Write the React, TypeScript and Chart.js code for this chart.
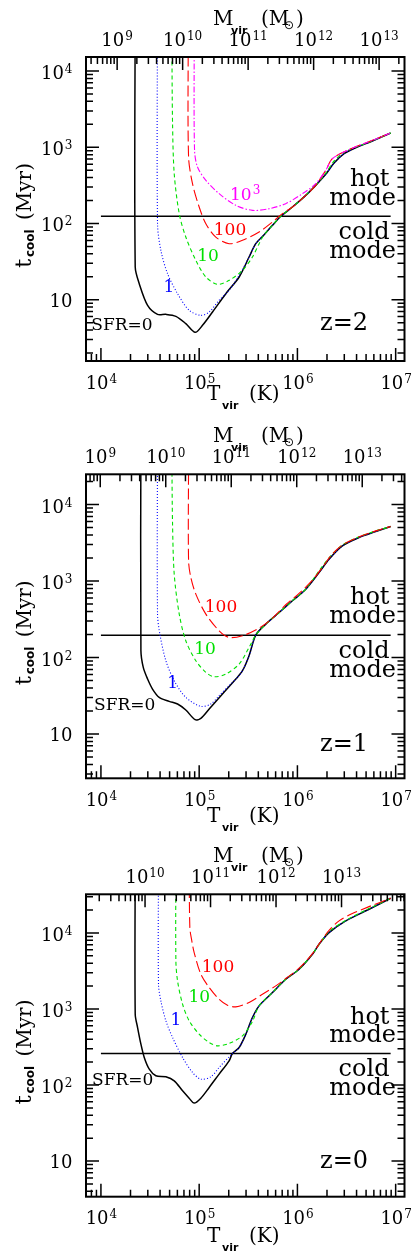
import { useEffect, useRef } from "react";
import { Chart, registerables } from "chart.js";

Chart.register(...registerables);

const SERIF = '"DejaVu Serif", serif';
const SANS = '"DejaVu Sans", sans-serif';

// ---------- values: log10 T_vir [K] and log10 t_cool [Myr] ----------
// z = 2
const z2Sfr0LogT = [4.349, 4.349, 4.390, 4.475, 4.576, 4.661, 4.763, 4.864, 4.959, 5.034, 5.136, 5.271, 5.407, 5.508, 5.576, 5.661, 5.746, 5.831, 5.949, 6.085, 6.186, 6.288, 6.373, 6.475, 6.593, 6.763, 6.949];
const z2Sfr0Logt = [5.000, 1.429, 1.210, 0.926, 0.808, 0.808, 0.782, 0.686, 0.572, 0.664, 0.839, 1.079, 1.298, 1.560, 1.735, 1.853, 1.976, 2.094, 2.216, 2.369, 2.500, 2.645, 2.793, 2.916, 2.994, 3.082, 3.187];
const z2Sfr1LogT = [4.576, 4.576, 4.610, 4.678, 4.780, 4.898, 5.017, 5.102, 5.203, 5.305, 5.407, 5.508, 5.576, 5.661, 5.746, 5.831, 5.949, 6.085, 6.186, 6.288, 6.373, 6.475, 6.593, 6.763, 6.949];
const z2Sfr1Logt = [5.000, 1.997, 1.648, 1.342, 1.079, 0.861, 0.795, 0.839, 0.992, 1.123, 1.320, 1.560, 1.735, 1.853, 1.976, 2.094, 2.216, 2.369, 2.500, 2.645, 2.793, 2.916, 2.994, 3.082, 3.187];
const z2Sfr10LogT = [4.722, 4.729, 4.746, 4.797, 4.864, 4.966, 5.068, 5.186, 5.305, 5.441, 5.542, 5.610, 5.661, 5.746, 5.831, 5.949, 6.085, 6.186, 6.288, 6.373, 6.475, 6.593, 6.763, 6.949];
const z2Sfr10Logt = [4.400, 3.309, 2.653, 2.129, 1.822, 1.516, 1.298, 1.202, 1.254, 1.385, 1.560, 1.735, 1.853, 1.976, 2.094, 2.216, 2.369, 2.500, 2.660, 2.820, 2.935, 3.000, 3.085, 3.187];
const z2Sfr100LogT = [4.888, 4.892, 4.932, 5.000, 5.068, 5.169, 5.305, 5.441, 5.610, 5.746, 5.847, 5.949, 6.085, 6.186, 6.288, 6.356, 6.525, 6.763, 6.949];
const z2Sfr100Logt = [4.400, 2.872, 2.522, 2.216, 1.997, 1.822, 1.735, 1.779, 1.888, 2.019, 2.129, 2.216, 2.369, 2.500, 2.697, 2.850, 2.968, 3.091, 3.187];
const z2Sfr1000LogT = [4.949, 4.953, 4.983, 5.068, 5.203, 5.373, 5.542, 5.712, 5.881, 6.051, 6.186, 6.288, 6.356, 6.525, 6.763, 6.949];
const z2Sfr1000Logt = [4.400, 2.959, 2.741, 2.566, 2.391, 2.238, 2.172, 2.194, 2.260, 2.391, 2.522, 2.697, 2.850, 2.968, 3.091, 3.187];
const z2HotColdLogt = 2.094;

// z = 1
const z1Sfr0LogT = [4.407, 4.407, 4.431, 4.475, 4.525, 4.593, 4.695, 4.780, 4.864, 4.959, 5.017, 5.102, 5.237, 5.373, 5.441, 5.508, 5.576, 5.678, 5.814, 5.949, 6.085, 6.220, 6.322, 6.458, 6.627, 6.797, 6.949];
const z1Sfr0Logt = [5.000, 2.089, 1.871, 1.719, 1.588, 1.479, 1.427, 1.392, 1.314, 1.188, 1.205, 1.327, 1.523, 1.719, 1.828, 2.024, 2.293, 2.437, 2.589, 2.742, 2.894, 3.112, 3.286, 3.460, 3.569, 3.647, 3.713];
const z1Sfr1LogT = [4.576, 4.576, 4.600, 4.661, 4.746, 4.864, 5.017, 5.119, 5.203, 5.305, 5.373, 5.441, 5.508, 5.576, 5.678, 5.814, 5.949, 6.085, 6.220, 6.322, 6.458, 6.627, 6.797, 6.949];
const z1Sfr1Logt = [5.000, 2.568, 2.306, 1.958, 1.697, 1.479, 1.362, 1.392, 1.501, 1.632, 1.719, 1.828, 2.024, 2.293, 2.437, 2.589, 2.742, 2.894, 3.112, 3.286, 3.460, 3.569, 3.647, 3.713];
const z1Sfr10LogT = [4.722, 4.729, 4.746, 4.797, 4.864, 4.966, 5.068, 5.153, 5.271, 5.407, 5.508, 5.576, 5.678, 5.814, 5.949, 6.085, 6.220, 6.339, 6.458, 6.627, 6.797, 6.949];
const z1Sfr10Logt = [4.600, 3.743, 3.090, 2.568, 2.219, 1.958, 1.806, 1.749, 1.784, 1.915, 2.132, 2.293, 2.437, 2.589, 2.742, 2.894, 3.134, 3.330, 3.473, 3.578, 3.656, 3.713];
const z1Sfr100LogT = [4.892, 4.892, 4.915, 4.966, 5.068, 5.203, 5.305, 5.441, 5.610, 5.746, 5.881, 6.017, 6.153, 6.254, 6.339, 6.458, 6.627, 6.797, 6.949];
const z1Sfr100Logt = [4.600, 3.264, 3.047, 2.829, 2.568, 2.350, 2.263, 2.285, 2.385, 2.515, 2.690, 2.838, 3.012, 3.177, 3.330, 3.473, 3.578, 3.656, 3.713];
const z1HotColdLogt = 2.293;

// z = 0
const z0Sfr0LogT = [4.349, 4.349, 4.373, 4.407, 4.441, 4.492, 4.559, 4.661, 4.746, 4.831, 4.898, 4.949, 5.017, 5.102, 5.203, 5.305, 5.339, 5.407, 5.475, 5.542, 5.610, 5.746, 5.881, 6.017, 6.153, 6.220, 6.322, 6.492, 6.729, 6.949];
const z0Sfr0Logt = [5.000, 2.931, 2.756, 2.537, 2.362, 2.208, 2.121, 2.108, 2.055, 1.924, 1.827, 1.762, 1.827, 1.968, 2.143, 2.318, 2.414, 2.493, 2.668, 2.887, 3.041, 3.216, 3.391, 3.523, 3.720, 3.851, 4.004, 4.158, 4.311, 4.456];
const z0Sfr1LogT = [4.586, 4.586, 4.610, 4.661, 4.729, 4.831, 4.932, 5.017, 5.119, 5.203, 5.305, 5.339, 5.407, 5.475, 5.542, 5.610, 5.746, 5.881, 6.017, 6.153, 6.220, 6.322, 6.492, 6.729, 6.949];
const z0Sfr1Logt = [5.000, 3.325, 3.106, 2.844, 2.625, 2.362, 2.165, 2.077, 2.108, 2.230, 2.371, 2.414, 2.493, 2.668, 2.887, 3.041, 3.216, 3.391, 3.523, 3.720, 3.851, 4.004, 4.158, 4.311, 4.456];
const z0Sfr10LogT = [4.763, 4.763, 4.780, 4.831, 4.898, 5.000, 5.102, 5.186, 5.305, 5.441, 5.542, 5.610, 5.746, 5.881, 6.017, 6.153, 6.254, 6.322, 6.492, 6.729, 6.949];
const z0Sfr10Logt = [5.000, 3.632, 3.369, 3.063, 2.844, 2.668, 2.559, 2.515, 2.546, 2.647, 2.835, 3.041, 3.216, 3.391, 3.523, 3.725, 3.905, 4.020, 4.165, 4.320, 4.456];
const z0Sfr100LogT = [4.898, 4.905, 4.925, 4.949, 5.017, 5.102, 5.203, 5.288, 5.373, 5.508, 5.644, 5.780, 5.881, 6.017, 6.153, 6.254, 6.322, 6.424, 6.559, 6.729, 6.949];
const z0Sfr100Logt = [5.000, 4.070, 3.895, 3.742, 3.457, 3.282, 3.128, 3.050, 3.028, 3.085, 3.194, 3.304, 3.400, 3.536, 3.728, 3.917, 4.035, 4.158, 4.254, 4.346, 4.456];
const z0HotColdLogt = 2.414;

const hotColdLogT = [4.0, 6.949];

// axis tick labels
const tempTickExponents = [4, 5, 6, 7];
const timeTickExponents = [1, 2, 3, 4];
const massTickExponents = [9, 10, 11, 12, 13];

const xLogRange = [3.848, 7.09];

const BLUE = "#0000ff";
const GREEN = "#00e000";
const RED = "#ff0000";
const MAGENTA = "#ff00ff";

type Curve = { logT: number[]; logt: number[]; color: string; width: number; dash: number[]; order: number };
type Label = { text: string; sup?: string; color: string; x: number; y: number; align: CanvasTextAlign; size: number };

const styleSfr0 = { color: "#000000", width: 1.5, dash: [] as number[], order: 4 };
const styleSfr1 = { color: BLUE, width: 1.1, dash: [1, 2], order: 3 };
const styleSfr10 = { color: GREEN, width: 1.1, dash: [4, 3], order: 2 };
const styleSfr100 = { color: RED, width: 1.1, dash: [11, 4], order: 1 };
const styleSfr1000 = { color: MAGENTA, width: 1.1, dash: [6, 2, 1.5, 2], order: 0 };

type Panel = {
  zText: string;
  canvasTop: number;
  padTop: number;
  padBottom: number;
  yLogRange: number[];
  massAnchor: number[]; // [log M, log T]
  hotColdLogt: number;
  curves: Curve[];
  labels: Label[];
  modeBase: number[];
  zBase: number;
  botTitleOffset: number;
};

const panels: Panel[] = [
  {
    zText: "z=2",
    canvasTop: 0,
    padTop: 57,
    padBottom: 56,
    yLogRange: [0.196, 4.184],
    massAnchor: [9, 4.165],
    hotColdLogt: z2HotColdLogt,
    curves: [
      { logT: z2Sfr0LogT, logt: z2Sfr0Logt, ...styleSfr0 },
      { logT: z2Sfr1LogT, logt: z2Sfr1Logt, ...styleSfr1 },
      { logT: z2Sfr10LogT, logt: z2Sfr10Logt, ...styleSfr10 },
      { logT: z2Sfr100LogT, logt: z2Sfr100Logt, ...styleSfr100 },
      { logT: z2Sfr1000LogT, logt: z2Sfr1000Logt, ...styleSfr1000 },
    ],
    labels: [
      { text: "10", sup: "3", color: MAGENTA, x: 230, y: 199.7, align: "left", size: 17 },
      { text: "100", color: RED, x: 230, y: 234.7, align: "center", size: 17 },
      { text: "10", color: GREEN, x: 208, y: 261, align: "center", size: 17 },
      { text: "1", color: BLUE, x: 169, y: 292, align: "center", size: 17 },
      { text: "SFR=0", color: "#000", x: 122, y: 329.7, align: "center", size: 17 },
    ],
    modeBase: [186.3, 205.3, 238.7, 258],
    zBase: 330.3,
    botTitleOffset: 39,
  },
  {
    zText: "z=1",
    canvasTop: 417,
    padTop: 57.3,
    padBottom: 55.7,
    yLogRange: [0.421, 4.396],
    massAnchor: [9, 3.993],
    hotColdLogt: z1HotColdLogt,
    curves: [
      { logT: z1Sfr0LogT, logt: z1Sfr0Logt, ...styleSfr0 },
      { logT: z1Sfr1LogT, logt: z1Sfr1Logt, ...styleSfr1 },
      { logT: z1Sfr10LogT, logt: z1Sfr10Logt, ...styleSfr10 },
      { logT: z1Sfr100LogT, logt: z1Sfr100Logt, ...styleSfr100 },
    ],
    labels: [
      { text: "100", color: RED, x: 221, y: 194.6, align: "center", size: 17 },
      { text: "10", color: GREEN, x: 205, y: 237.3, align: "center", size: 17 },
      { text: "1", color: BLUE, x: 172.7, y: 270.6, align: "center", size: 17 },
      { text: "SFR=0", color: "#000", x: 124.7, y: 293.3, align: "center", size: 17 },
    ],
    modeBase: [187.3, 206.3, 240.6, 259.6],
    zBase: 334,
    botTitleOffset: 44,
  },
  {
    zText: "z=0",
    canvasTop: 834,
    padTop: 60.3,
    padBottom: 54.3,
    yLogRange: [0.531, 4.508],
    massAnchor: [10, 4.449],
    hotColdLogt: z0HotColdLogt,
    curves: [
      { logT: z0Sfr0LogT, logt: z0Sfr0Logt, ...styleSfr0 },
      { logT: z0Sfr1LogT, logt: z0Sfr1Logt, ...styleSfr1 },
      { logT: z0Sfr10LogT, logt: z0Sfr10Logt, ...styleSfr10 },
      { logT: z0Sfr100LogT, logt: z0Sfr100Logt, ...styleSfr100 },
    ],
    labels: [
      { text: "100", color: RED, x: 218, y: 137.6, align: "center", size: 17 },
      { text: "10", color: GREEN, x: 199.3, y: 167.6, align: "center", size: 17 },
      { text: "1", color: BLUE, x: 176, y: 191, align: "center", size: 17 },
      { text: "SFR=0", color: "#000", x: 122.7, y: 251.3, align: "center", size: 17 },
    ],
    modeBase: [189.6, 208, 242, 261.3],
    zBase: 333.6,
    botTitleOffset: 45,
  },
];

function drawPow(
  ctx: CanvasRenderingContext2D,
  exp: number,
  x: number,
  baseline: number,
  align: "center" | "right",
) {
  const baseFont = `18px ${SERIF}`;
  const expFont = `12px ${SERIF}`;
  ctx.font = baseFont;
  const bw = ctx.measureText("10").width;
  const expStr = exp === 1 ? "" : String(exp);
  ctx.font = expFont;
  const ew = expStr ? ctx.measureText(expStr).width + 1 : 0;
  const total = bw + ew;
  const left = align === "center" ? x - total / 2 : x - total;
  ctx.textAlign = "left";
  ctx.textBaseline = "alphabetic";
  ctx.font = baseFont;
  ctx.fillText("10", left, baseline);
  if (expStr) {
    ctx.font = expFont;
    ctx.fillText(expStr, left + bw + 1, baseline - 6);
  }
}

function logTicks(min: number, max: number) {
  const out: { v: number; major: boolean }[] = [];
  const d0 = Math.floor(Math.log10(min));
  const d1 = Math.ceil(Math.log10(max));
  for (let d = d0; d <= d1; d++) {
    for (let k = 1; k < 10; k++) {
      const v = k * Math.pow(10, d);
      if (v >= min * 0.9999 && v <= max * 1.0001) out.push({ v, major: k === 1 });
    }
  }
  return out;
}

function makeFramePlugin(p: Panel) {
  return {
    id: "frame",
    afterDraw(chart: any) {
      const ctx: CanvasRenderingContext2D = chart.ctx;
      const a = chart.chartArea;
      const xs = chart.scales.x;
      const ys = chart.scales.y;
      const ms = chart.scales.m;
      ctx.save();
      ctx.strokeStyle = "#000";
      ctx.fillStyle = "#000";
      ctx.lineWidth = 1.5;
      const MAJ = 13;
      const MIN = 7;
      ctx.beginPath();
      for (const t of logTicks(xs.min, xs.max)) {
        const px = xs.getPixelForValue(t.v);
        const L = t.major ? MAJ : MIN;
        ctx.moveTo(px, a.bottom);
        ctx.lineTo(px, a.bottom - L);
      }
      for (const t of logTicks(ms.min, ms.max)) {
        const px = ms.getPixelForValue(t.v);
        const L = t.major ? MAJ : MIN;
        ctx.moveTo(px, a.top);
        ctx.lineTo(px, a.top + L);
      }
      for (const t of logTicks(ys.min, ys.max)) {
        const py = ys.getPixelForValue(t.v);
        const L = t.major ? MAJ : MIN;
        ctx.moveTo(a.left, py);
        ctx.lineTo(a.left + L, py);
        ctx.moveTo(a.right, py);
        ctx.lineTo(a.right - L, py);
      }
      ctx.stroke();
      // frame
      ctx.lineWidth = 2;
      ctx.strokeRect(a.left, a.top, a.right - a.left, a.bottom - a.top);

      // tick labels
      for (const e of tempTickExponents) {
        const px = xs.getPixelForValue(Math.pow(10, e));
        drawPow(ctx, e, px + 0.5, a.bottom + 27.5, "center");
      }
      for (const e of massTickExponents) {
        const v = Math.pow(10, e);
        if (v < ms.min || v > ms.max) continue;
        const px = ms.getPixelForValue(v);
        drawPow(ctx, e, px, a.top - 11.5, "center");
      }
      for (const e of timeTickExponents) {
        const v = Math.pow(10, e);
        if (v < ys.min || v > ys.max) continue;
        const py = ys.getPixelForValue(v);
        drawPow(ctx, e, 72.5, py + (e === 1 ? 7 : 8), "right");
      }

      // top title: M_vir (M_sun)
      ctx.textAlign = "left";
      ctx.textBaseline = "alphabetic";
      const tb = a.top - 32.5;
      ctx.font = `20px ${SERIF}`;
      ctx.fillText("M", 213, tb);
      ctx.fillText("(M", 261, tb);
      ctx.fillText(")", 296, tb);
      ctx.font = `bold 11px ${SANS}`;
      ctx.fillText("vir", 231, tb + 9);
      ctx.font = `12px ${SANS}`;
      ctx.fillText("\u2299", 284, tb + 4);

      // bottom title: T_vir (K)
      const bb = a.bottom + p.botTitleOffset;
      ctx.font = `20px ${SERIF}`;
      ctx.fillText("T", 207, bb);
      ctx.fillText("(K)", 249, bb);
      ctx.font = `bold 11px ${SANS}`;
      ctx.fillText("vir", 222, bb + 9);

      // y title: t_cool (Myr)
      ctx.save();
      const cy = (a.top + a.bottom) / 2 + 3;
      ctx.translate(31, cy + 58);
      ctx.rotate(-Math.PI / 2);
      ctx.font = `23px ${SERIF}`;
      ctx.fillText("t", 2, 0);
      ctx.font = `bold 12px ${SANS}`;
      ctx.fillText("cool", 13, 3);
      ctx.font = `20px ${SERIF}`;
      ctx.fillText("(Myr)", 50, 0);
      ctx.restore();

      // hot / cold mode
      ctx.font = `24px ${SERIF}`;
      ctx.textAlign = "right";
      ctx.fillText("hot", 389.5, p.modeBase[0]);
      ctx.fillText("mode", 396, p.modeBase[1]);
      ctx.fillText("cold", 389.5, p.modeBase[2]);
      ctx.fillText("mode", 396, p.modeBase[3]);
      ctx.textAlign = "left";
      ctx.fillText(p.zText, 320, p.zBase);

      // curve labels
      for (const l of p.labels) {
        ctx.fillStyle = l.color;
        ctx.font = `${l.size}px ${SERIF}`;
        ctx.textAlign = l.align;
        ctx.fillText(l.text, l.x, l.y);
        if (l.sup) {
          const w = ctx.measureText(l.text).width;
          ctx.font = `12px ${SERIF}`;
          ctx.textAlign = "left";
          ctx.fillText(l.sup, l.x + w + 1, l.y - 6);
        }
      }
      ctx.restore();
    },
  };
}

function PanelChart({ p }: { p: Panel }) {
  const ref = useRef<HTMLCanvasElement | null>(null);
  useEffect(() => {
    if (!ref.current) return;
    const datasets: any[] = p.curves.map((c) => ({
      data: c.logT.map((lt, i) => ({ x: Math.pow(10, lt), y: Math.pow(10, c.logt[i]) })),
      borderColor: c.color,
      borderWidth: c.width,
      borderDash: c.dash,
      order: c.order,
      pointRadius: 0,
      tension: 0.3,
      fill: false,
    }));
    datasets.push({
      data: hotColdLogT.map((lt) => ({ x: Math.pow(10, lt), y: Math.pow(10, p.hotColdLogt) })),
      borderColor: "#000",
      borderWidth: 1.5,
      order: 5,
      pointRadius: 0,
      tension: 0,
      fill: false,
    });
    const [mLog, tLog] = p.massAnchor;
    const mMin = Math.pow(10, mLog + 1.5 * (xLogRange[0] - tLog));
    const mMax = Math.pow(10, mLog + 1.5 * (xLogRange[1] - tLog));
    const chart = new Chart(ref.current, {
      type: "line",
      data: { datasets },
      options: {
        responsive: false,
        animation: false,
        devicePixelRatio: 1,
        events: [],
        layout: { padding: { left: 86, right: 14.5, top: p.padTop, bottom: p.padBottom } },
        plugins: { legend: { display: false }, tooltip: { enabled: false } },
        scales: {
          x: { type: "logarithmic", display: false, bounds: "data", min: Math.pow(10, xLogRange[0]), max: Math.pow(10, xLogRange[1]) },
          y: { type: "logarithmic", display: false, bounds: "data", min: Math.pow(10, p.yLogRange[0]), max: Math.pow(10, p.yLogRange[1]) },
          m: { type: "logarithmic", axis: "x", position: "top", display: false, bounds: "data", min: mMin, max: mMax },
        },
      } as any,
      plugins: [makeFramePlugin(p) as any],
    });
    return () => chart.destroy();
  }, [p]);
  return (
    <canvas
      ref={ref}
      width={419}
      height={417}
      style={{ position: "absolute", left: 0, top: p.canvasTop, width: 419, height: 417 }}
    />
  );
}

export default function App() {
  return (
    <div style={{ position: "absolute", left: 0, top: 0, width: 419, height: 1251, background: "#fff" }}>
      {panels.map((p) => (
        <PanelChart key={p.zText} p={p} />
      ))}
    </div>
  );
}
